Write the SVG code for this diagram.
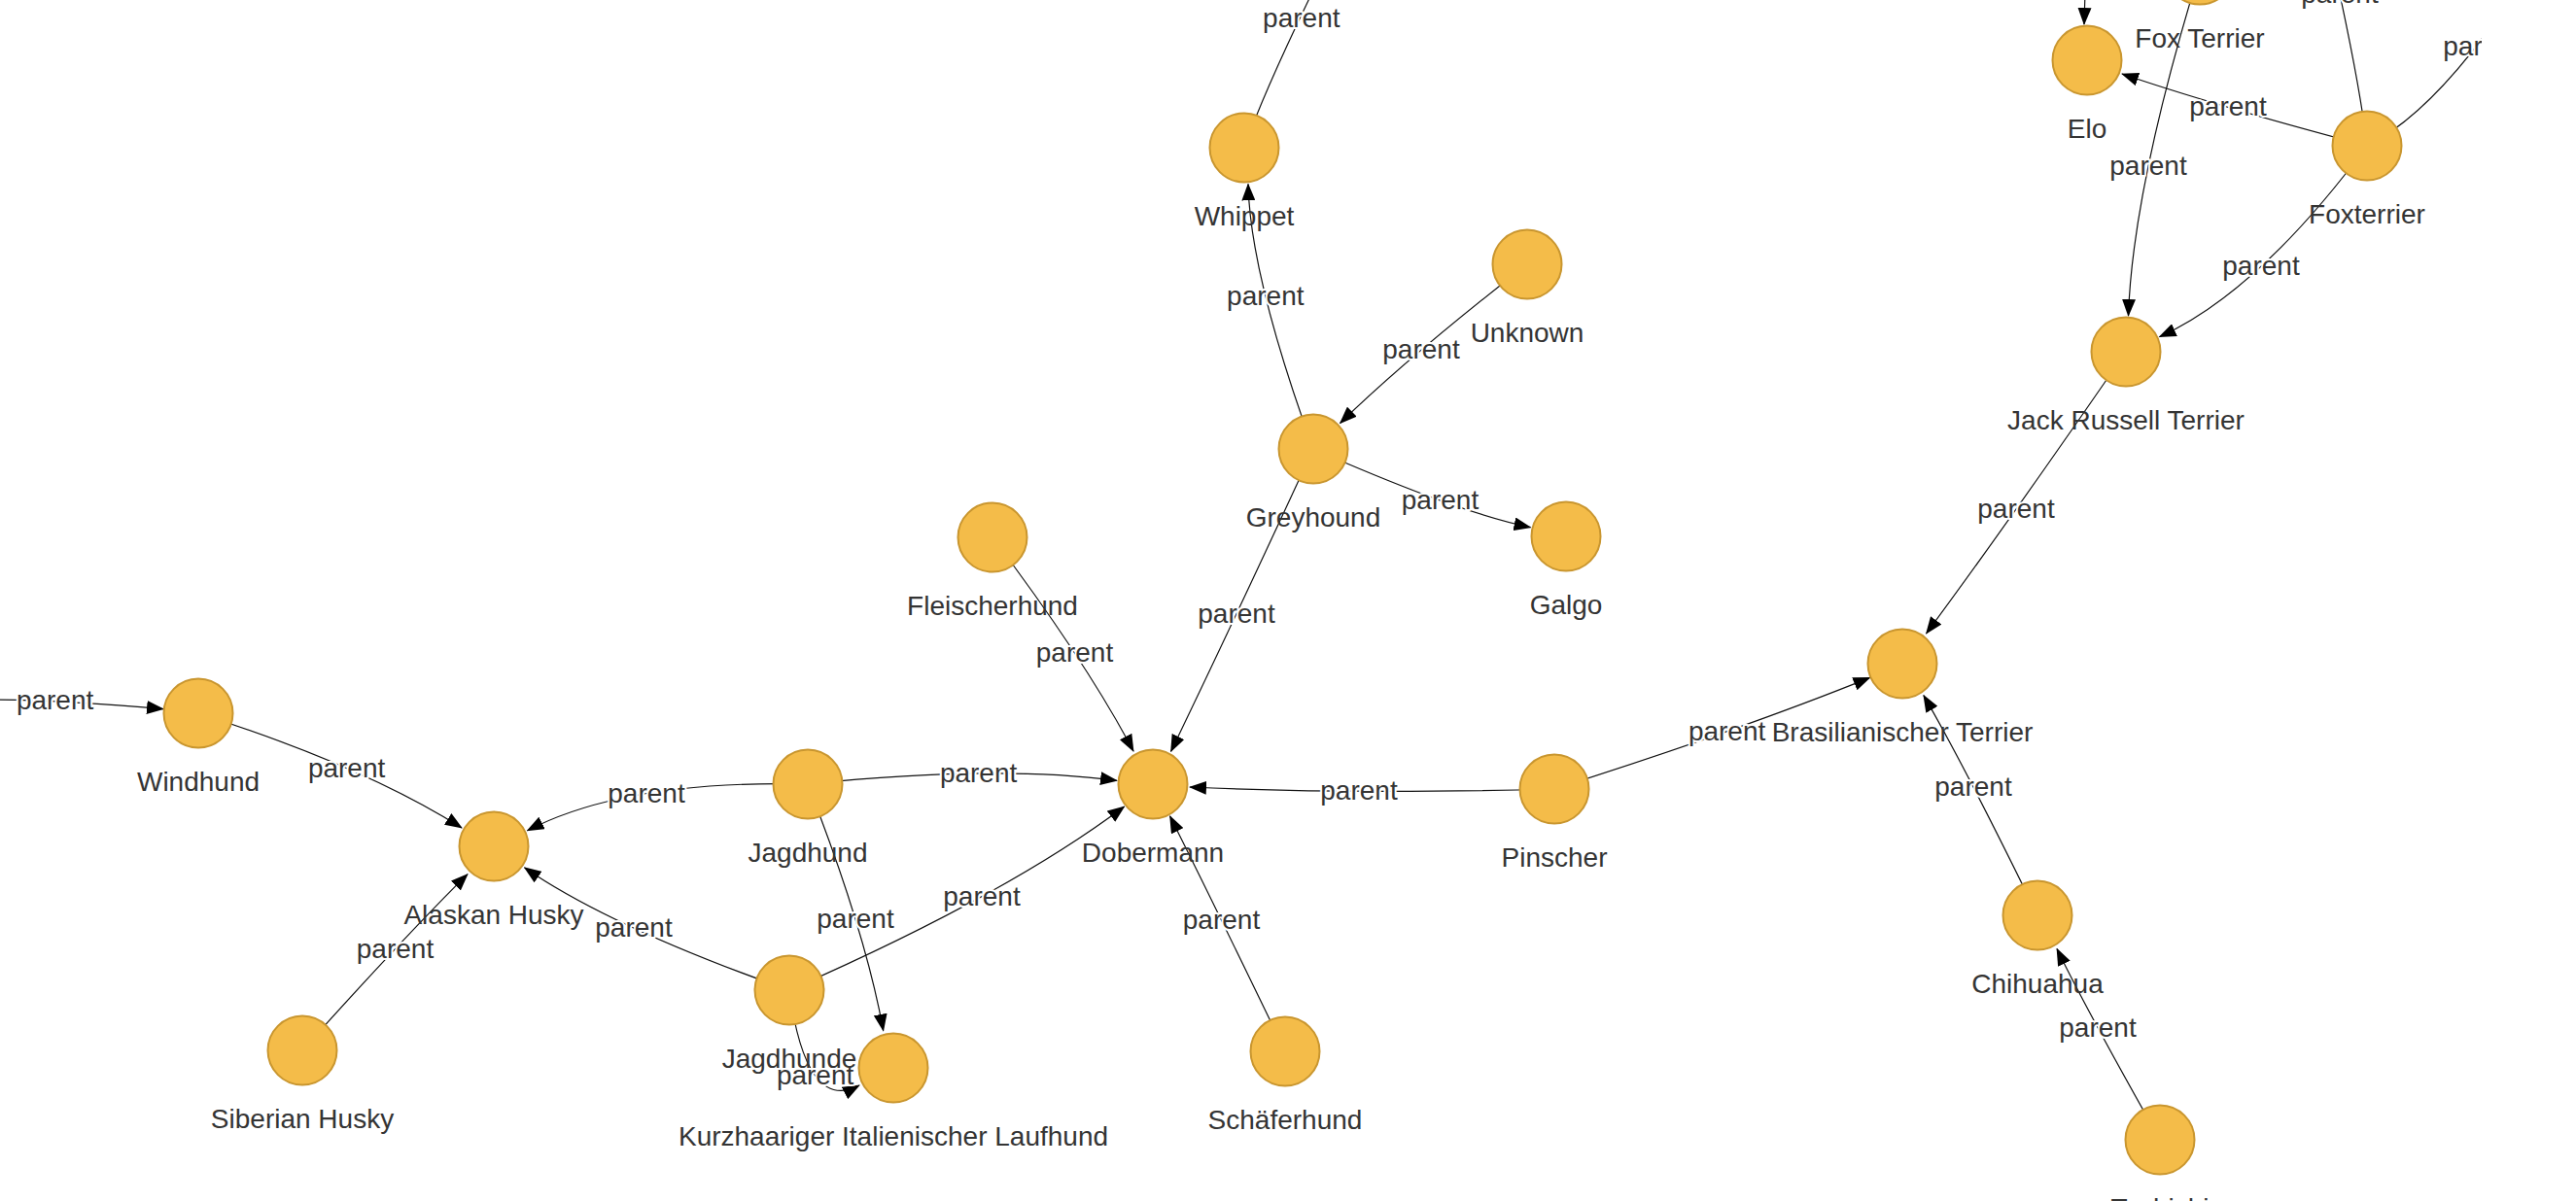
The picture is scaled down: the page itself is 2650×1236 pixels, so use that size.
<svg xmlns="http://www.w3.org/2000/svg" width="2650" height="1236" viewBox="0 0 2650 1236">
<style>
.edge{fill:none;stroke:#111;stroke-width:1.2;marker-end:url(#arrow)}
.edge.noarrow{marker-end:none}
.elabel{font-family:"Liberation Sans",Arial,sans-serif;font-size:28px;fill:#343434;stroke:#fff;stroke-width:4;paint-order:stroke;stroke-linejoin:round;text-anchor:middle}
.node circle{fill:#F4BC49;stroke:#C9962F;stroke-width:2}
.node text{font-family:"Liberation Sans",Arial,sans-serif;font-size:28px;fill:#343434;text-anchor:middle}
</style>
<defs>
<marker id="arrow" markerUnits="userSpaceOnUse" markerWidth="18" markerHeight="14" viewBox="0 0 18 14" refX="17" refY="7" orient="auto">
<path d="M0,0 L18,7 L0,14 Z" fill="#000"/>
</marker>
<clipPath id="view"><rect x="0" y="0" width="2553" height="1236"/></clipPath>
</defs>
<rect width="2650" height="1236" fill="#fff"/>
<g clip-path="url(#view)">
<g id="connectors">
<path class="edge" d="M-20,720 Q60,720 168,729.6"/>
<text class="elabel" x="56.6" y="729.6">parent</text>
<path class="edge" d="M204,734 Q373.7,788 475,852"/>
<text class="elabel" x="356.6" y="799.5">parent</text>
<path class="edge" d="M831,807 Q643.25,802.3 542.5,854.8"/>
<text class="elabel" x="665" y="825.6">parent</text>
<path class="edge" d="M311,1081 Q417,962.9 481,899.6"/>
<text class="elabel" x="406.5" y="985.6">parent</text>
<path class="edge" d="M812,1019 Q628.2,954.05 539.6,892.9"/>
<text class="elabel" x="652" y="963.9">parent</text>
<path class="edge" d="M831,807 Q1023.2,786.85 1149,803.3"/>
<text class="elabel" x="1006.6" y="805">parent</text>
<path class="edge" d="M831,807 Q890.15,958.15 908.7,1060.7"/>
<text class="elabel" x="880" y="955">parent</text>
<path class="edge" d="M812,1019 Q1035.7,920.9 1156.6,830"/>
<text class="elabel" x="1010" y="931.7">parent</text>
<path class="edge" d="M812,1019 Q829.2,1146 884,1117"/>
<text class="elabel" x="838.6" y="1116">parent</text>
<path class="edge" d="M1322,1082 Q1250.2,933 1203.6,840"/>
<text class="elabel" x="1256.5" y="956">parent</text>
<path class="edge" d="M1021,553 Q1117.5,681 1166,773"/>
<text class="elabel" x="1105.5" y="681">parent</text>
<path class="edge" d="M1351,462 Q1266.2,645.75 1204.6,773.3"/>
<text class="elabel" x="1272" y="640.7">parent</text>
<path class="edge" d="M1599,812 Q1384.5,817.6 1224,810"/>
<text class="elabel" x="1398" y="823.3">parent</text>
<path class="edge" d="M1599,812 Q1791.9,750.7 1923.6,697.4"/>
<text class="elabel" x="1776.6" y="761.7">parent</text>
<path class="edge" d="M1351,462 Q1286.1,283.9 1284,189.4"/>
<text class="elabel" x="1301.8" y="313.8">parent</text>
<path class="edge" d="M1571,272 Q1449.2,366.85 1378.6,435.5"/>
<text class="elabel" x="1462" y="369.3">parent</text>
<path class="edge" d="M1351,462 Q1500.25,527.65 1574.5,542.7"/>
<text class="elabel" x="1481.5" y="524">parent</text>
<path class="edge noarrow" d="M1280,152 Q1300,95 1352,-12"/>
<text class="elabel" x="1338.8" y="27.6">parent</text>
<path class="edge" d="M2187,362 Q2063.7,541 1981.6,652"/>
<text class="elabel" x="2074" y="533">parent</text>
<path class="edge" d="M2096,942 Q2022.55,791.2 1978.9,715.6"/>
<text class="elabel" x="2030" y="819">parent</text>
<path class="edge" d="M2222,1173 Q2147,1040.25 2116,976.5"/>
<text class="elabel" x="2158" y="1066.5">parent</text>
<path class="edge" d="M2435,150 Q2323.75,300.25 2221.5,346.7"/>
<text class="elabel" x="2326" y="283.3">parent</text>
<path class="edge" d="M2263,-31 Q2193.75,195 2189.5,325"/>
<text class="elabel" x="2210" y="180">parent</text>
<path class="edge" d="M2435,150 Q2275,107.6 2183,76"/>
<text class="elabel" x="2292" y="119.3">parent</text>
<path class="edge" d="M2146,-40 L2144,25"/>
<path class="edge noarrow" d="M2435,150 Q2428,90 2404,-20"/>
<text class="elabel" x="2407" y="3.3">parent</text>
<path class="edge noarrow" d="M2435,150 Q2500,118 2575,10"/>
<text class="elabel" x="2553" y="57">parent</text>
</g>
<g id="node-windhund" class="node"><circle cx="204" cy="734" r="35.5"/><text x="204" y="813.5">Windhund</text></g>
<g id="node-alaskan-husky" class="node"><circle cx="508" cy="871" r="35.5"/><text x="508" y="950.5">Alaskan Husky</text></g>
<g id="node-siberian-husky" class="node"><circle cx="311" cy="1081" r="35.5"/><text x="311" y="1160.5">Siberian Husky</text></g>
<g id="node-jagdhund" class="node"><circle cx="831" cy="807" r="35.5"/><text x="831" y="886.5">Jagdhund</text></g>
<g id="node-jagdhunde" class="node"><circle cx="812" cy="1019" r="35.5"/><text x="812" y="1098.5">Jagdhunde</text></g>
<g id="node-kurzhaariger" class="node"><circle cx="919" cy="1099" r="35.5"/><text x="919" y="1178.5">Kurzhaariger Italienischer Laufhund</text></g>
<g id="node-dobermann" class="node"><circle cx="1186" cy="807" r="35.5"/><text x="1186" y="886.5">Dobermann</text></g>
<g id="node-schaeferhund" class="node"><circle cx="1322" cy="1082" r="35.5"/><text x="1322" y="1161.5">Schäferhund</text></g>
<g id="node-fleischerhund" class="node"><circle cx="1021" cy="553" r="35.5"/><text x="1021" y="632.5">Fleischerhund</text></g>
<g id="node-greyhound" class="node"><circle cx="1351" cy="462" r="35.5"/><text x="1351" y="541.5">Greyhound</text></g>
<g id="node-galgo" class="node"><circle cx="1611" cy="552" r="35.5"/><text x="1611" y="631.5">Galgo</text></g>
<g id="node-unknown" class="node"><circle cx="1571" cy="272" r="35.5"/><text x="1571" y="351.5">Unknown</text></g>
<g id="node-whippet" class="node"><circle cx="1280" cy="152" r="35.5"/><text x="1280" y="231.5">Whippet</text></g>
<g id="node-pinscher" class="node"><circle cx="1599" cy="812" r="35.5"/><text x="1599" y="891.5">Pinscher</text></g>
<g id="node-brasilianischer-terrier" class="node"><circle cx="1957" cy="683" r="35.5"/><text x="1957" y="762.5">Brasilianischer Terrier</text></g>
<g id="node-chihuahua" class="node"><circle cx="2096" cy="942" r="35.5"/><text x="2096" y="1021.5">Chihuahua</text></g>
<g id="node-techichi" class="node"><circle cx="2222" cy="1173" r="35.5"/><text x="2222" y="1252.5">Techichi</text></g>
<g id="node-jack-russell-terrier" class="node"><circle cx="2187" cy="362" r="35.5"/><text x="2187" y="441.5">Jack Russell Terrier</text></g>
<g id="node-foxterrier" class="node"><circle cx="2435" cy="150" r="35.5"/><text x="2435" y="229.5">Foxterrier</text></g>
<g id="node-elo" class="node"><circle cx="2147" cy="62" r="35.5"/><text x="2147" y="141.5">Elo</text></g>
<g id="node-fox-terrier" class="node"><circle cx="2263" cy="-31" r="35.5"/><text x="2263" y="48.5">Fox Terrier</text></g>
</g>
</svg>
